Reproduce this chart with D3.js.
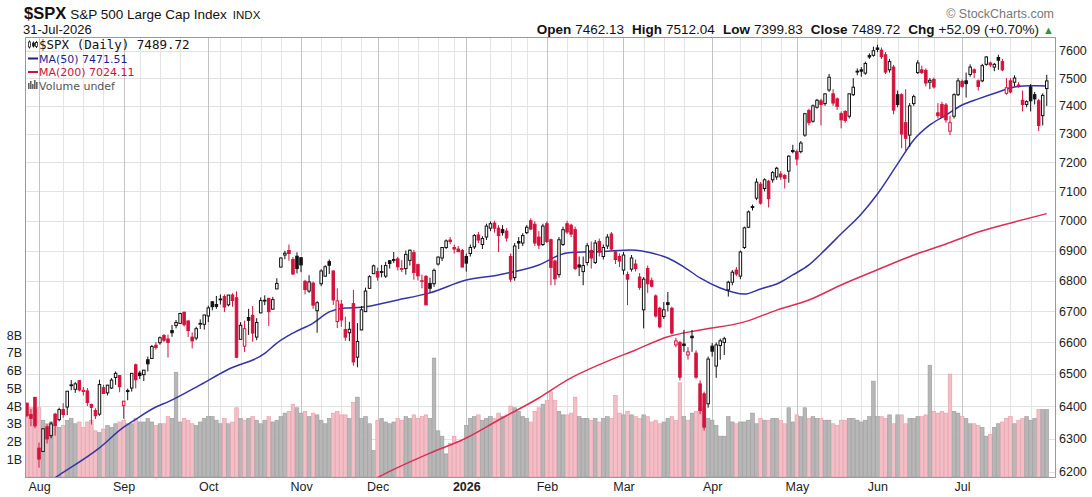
<!DOCTYPE html>
<html>
<head>
<meta charset="utf-8">
<script src="https://cdn.jsdelivr.net/npm/d3@7"></script>
<style>
  body { margin: 0; background: #fff; }
  svg { display: block; font-family: "Liberation Sans", Arial, sans-serif; }
</style>
</head>
<body>
<svg id="chart" width="1092" height="497"></svg>
<script>
// ---- data: daily OHLC + volume, 29-Jul-2025 .. 31-Jul-2026 (one value per trading day) ----
const holidays = ["2025-09-01", "2025-11-27", "2025-12-25", "2026-01-01", "2026-01-19",
                  "2026-02-16", "2026-04-03", "2026-05-25", "2026-06-19", "2026-07-03"];
const priorClose = 6389.77;

const opens = [
  6409, 6374, 6427,
  6271, 6261, 6336, 6309, 6375, 6358, 6389, 6397, 6466, 6452, 6479, 6445, 6447, 6405, 6386, 6375, 6457, 6441, 6456, 6489, 6495,
  6401, 6445, 6456, 6529, 6503, 6498, 6545, 6549, 6591, 6599, 6622, 6611, 6638, 6654, 6661, 6697, 6669, 6617, 6614, 6661, 6658,
  6685, 6731, 6722, 6740, 6748, 6721, 6753, 6744, 6610, 6588, 6680, 6687, 6617, 6695, 6736, 6742, 6707, 6773, 6845, 6885, 6900, 6870, 6881,
  6876, 6798, 6766, 6792, 6702, 6790, 6815, 6863, 6832, 6667, 6723, 6641, 6631, 6725, 6553, 6640, 6699, 6775, 6823,
  6830, 6830, 6815, 6866, 6867, 6872, 6839, 6840, 6867, 6893, 6853, 6800, 6814, 6791, 6790, 6855, 6875, 6910, 6935, 6910, 6905, 6900,
  6880, 6890, 6912, 6952, 6920, 6945, 6975, 6992, 6975, 6970, 6965, 6880, 6810, 6930, 6925, 6960, 7000, 6988, 6945, 6920,
  6990, 6936, 6865, 6820, 6920, 6990, 6985, 6970, 6852, 6830, 6860, 6900, 6860, 6930, 6880, 6915, 6955, 6895, 6880,
  6835, 6820, 6838, 6855, 6812, 6705, 6840, 6800, 6750, 6710, 6683, 6728, 6710, 6592, 6600, 6595, 6560, 6620, 6566, 6469, 6438, 6407,
  6588, 6525, 6590, 6600, 6770, 6795, 6835, 6815, 6910, 6978, 7048, 7077, 7125, 7110, 7135, 7140, 7150, 7160, 7155, 7170, 7242,
  7238, 7238, 7296, 7383, 7345, 7395, 7418, 7408, 7457, 7443, 7425, 7372, 7380, 7363, 7440, 7525, 7530, 7518, 7582, 7583,
  7610, 7602, 7585, 7530, 7540, 7440, 7440, 7340, 7296, 7408, 7520, 7530, 7528, 7485, 7495, 7375, 7405, 7403, 7310, 7363, 7440,
  7488, 7490, 7513, 7530, 7490, 7490, 7550, 7555, 7540, 7575, 7560, 7445, 7490, 7485, 7475, 7420, 7405, 7468, 7440, 7418, 7365, 7462.13
];
const highs = [
  6410, 6391, 6428,
  6288, 6330, 6344, 6352, 6379, 6395, 6409, 6446, 6481, 6474, 6481, 6459, 6456, 6407, 6393, 6482, 6466, 6466, 6487, 6508, 6495,
  6416, 6454, 6502, 6533, 6510, 6513, 6555, 6592, 6601, 6619, 6627, 6625, 6656, 6672, 6695, 6699, 6670, 6632, 6650, 6674, 6689,
  6718, 6733, 6750, 6755, 6755, 6753, 6759, 6765, 6665, 6670, 6708, 6717, 6678, 6745, 6752, 6744, 6747, 6808, 6877, 6899, 6920, 6878, 6894,
  6877, 6803, 6818, 6797, 6733, 6838, 6851, 6870, 6834, 6775, 6737, 6683, 6666, 6770, 6662, 6717, 6777, 6818, 6853,
  6843, 6852, 6862, 6867, 6895, 6879, 6868, 6900, 6903, 6902, 6856, 6820, 6819, 6810, 6840, 6880, 6910, 6937, 6945, 6920, 6915, 6905,
  6890, 6920, 6955, 6962, 6948, 6990, 6998, 7000, 6985, 6985, 6975, 6890, 6925, 6945, 6958, 6985, 7008, 6998, 6965, 6990,
  6998, 6940, 6870, 6945, 6980, 7000, 6990, 6980, 6880, 6880, 6925, 6930, 6935, 6940, 6920, 6955, 6962, 6900, 6890,
  6895, 6830, 6885, 6870, 6825, 6812, 6850, 6810, 6755, 6715, 6730, 6763, 6715, 6615, 6605, 6640, 6585, 6640, 6575, 6480, 6445, 6555,
  6598, 6600, 6612, 6618, 6800, 6835, 6845, 6900, 6980, 7035, 7055, 7145, 7132, 7145, 7140, 7170, 7185, 7170, 7160, 7225, 7262,
  7245, 7275, 7375, 7390, 7405, 7425, 7425, 7445, 7515, 7460, 7430, 7380, 7385, 7445, 7500, 7535, 7540, 7560, 7590, 7615,
  7622, 7612, 7595, 7570, 7548, 7455, 7445, 7460, 7410, 7440, 7565, 7545, 7535, 7500, 7502, 7410, 7415, 7410, 7365, 7445, 7500,
  7495, 7520, 7550, 7535, 7495, 7552, 7580, 7560, 7555, 7585, 7570, 7500, 7500, 7510, 7485, 7455, 7420, 7478, 7450, 7425, 7445, 7512.04
];
const lows = [
  6365, 6338, 6332,
  6212, 6261, 6285, 6301, 6309, 6353, 6364, 6372, 6449, 6441, 6445, 6433, 6400, 6343, 6360, 6370, 6438, 6433, 6453, 6466, 6443,
  6361, 6418, 6445, 6455, 6484, 6478, 6508, 6548, 6577, 6593, 6601, 6552, 6618, 6645, 6660, 6651, 6617, 6581, 6607, 6643, 6641,
  6665, 6703, 6708, 6722, 6698, 6716, 6715, 6550, 6610, 6569, 6624, 6602, 6607, 6694, 6720, 6653, 6706, 6773, 6844, 6871, 6866, 6819, 6824,
  6828, 6755, 6760, 6708, 6631, 6782, 6813, 6822, 6721, 6646, 6650, 6605, 6604, 6526, 6521, 6639, 6698, 6774, 6823,
  6800, 6811, 6809, 6840, 6858, 6834, 6828, 6820, 6850, 6803, 6801, 6775, 6720, 6760, 6780, 6850, 6865, 6905, 6921, 6890, 6895, 6845,
  6830, 6880, 6905, 6925, 6905, 6935, 6965, 6960, 6895, 6950, 6930, 6795, 6800, 6905, 6915, 6955, 6968, 6915, 6905, 6915,
  6925, 6785, 6785, 6810, 6915, 6955, 6945, 6835, 6815, 6785, 6850, 6840, 6855, 6880, 6870, 6905, 6900, 6855, 6845,
  6820, 6720, 6830, 6830, 6770, 6645, 6760, 6778, 6680, 6645, 6675, 6700, 6625, 6585, 6480, 6570, 6545, 6570, 6485, 6375, 6325, 6395,
  6555, 6488, 6545, 6560, 6748, 6785, 6815, 6805, 6905, 6975, 7035, 7070, 7055, 7100, 7045, 7130, 7140, 7140, 7110, 7130, 7232,
  7190, 7232, 7290, 7330, 7340, 7390, 7330, 7400, 7450, 7400, 7385, 7320, 7340, 7355, 7435, 7510, 7505, 7512, 7570, 7578,
  7595, 7570, 7515, 7520, 7370, 7395, 7250, 7235, 7254, 7400, 7515, 7515, 7470, 7460, 7462, 7355, 7358, 7340, 7296, 7355, 7435,
  7465, 7430, 7505, 7500, 7455, 7485, 7545, 7540, 7525, 7530, 7525, 7440, 7445, 7470, 7465, 7380, 7395, 7380, 7405, 7310, 7330, 7399.83
];
const closes = [
  6371, 6362, 6339,
  6238, 6330, 6299, 6345, 6340, 6389, 6374, 6446, 6466, 6469, 6450, 6449, 6411, 6396, 6370, 6467, 6439, 6465, 6481, 6502, 6460,
  6415, 6448, 6502, 6482, 6495, 6512, 6532, 6587, 6584, 6615, 6607, 6600, 6631, 6664, 6693, 6657, 6638, 6605, 6644, 6661, 6688,
  6711, 6715, 6716, 6740, 6714, 6753, 6735, 6553, 6655, 6644, 6671, 6630, 6664, 6735, 6736, 6699, 6738, 6791, 6875, 6891, 6890, 6822, 6840,
  6852, 6771, 6796, 6720, 6728, 6832, 6846, 6851, 6737, 6734, 6672, 6617, 6642, 6538, 6603, 6705, 6766, 6813, 6849,
  6812, 6829, 6850, 6857, 6870, 6846, 6840, 6887, 6901, 6827, 6816, 6800, 6721, 6775, 6834, 6878, 6910, 6932, 6930, 6905, 6896, 6845,
  6858, 6910, 6950, 6935, 6940, 6982, 6990, 6975, 6950, 6960, 6942, 6805, 6915, 6925, 6950, 6978, 6972, 6925, 6918, 6982,
  6930, 6844, 6806, 6936, 6970, 6962, 6955, 6840, 6845, 6850, 6916, 6875, 6925, 6895, 6910, 6945, 6905, 6870, 6865,
  6885, 6805, 6875, 6840, 6778, 6805, 6790, 6782, 6685, 6650, 6705, 6722, 6630, 6605, 6490, 6590, 6570, 6615, 6490, 6386, 6335, 6547,
  6572, 6592, 6605, 6612, 6795, 6828, 6822, 6895, 6976, 7030, 7045, 7132, 7060, 7140, 7075, 7165, 7180, 7150, 7145, 7222, 7238,
  7212, 7268, 7372, 7340, 7400, 7420, 7405, 7443, 7503, 7410, 7398, 7350, 7348, 7443, 7467, 7522, 7525, 7553, 7577, 7600,
  7605, 7578, 7522, 7560, 7385, 7405, 7300, 7285, 7400, 7433, 7555, 7520, 7482, 7492, 7468, 7365, 7360, 7350, 7340, 7440, 7490,
  7470, 7480, 7540, 7520, 7470, 7545, 7577, 7548, 7550, 7565, 7530, 7465, 7450, 7500, 7472, 7405, 7415, 7418, 7425, 7330, 7437.63, 7489.72
];
// volume in billions of shares
const volumes = [
  4.1, 3.9, 3.8,
  3.9, 3.2, 3.0, 3.1, 2.9, 2.8, 2.9, 3.2, 3.3, 3.0, 3.1, 2.8, 3.1, 3.2, 2.6, 2.5, 2.7, 2.9, 2.8, 3.0, 3.1,
  3.2, 3.0, 3.0, 3.3, 3.1, 3.1, 3.3, 3.1, 2.9, 3.0, 3.0, 3.4, 3.3, 5.9, 3.1, 3.3, 3.2, 3.0, 2.9, 3.1, 3.3,
  3.4, 3.4, 3.2, 3.0, 3.3, 3.0, 3.1, 3.9, 3.3, 3.2, 3.3, 3.4, 3.2, 3.0, 3.2, 3.4, 3.1, 3.2, 3.4, 3.6, 3.7, 4.1, 3.9,
  3.6, 3.7, 3.4, 3.6, 3.5, 3.2, 3.0, 3.3, 3.6, 3.7, 3.5, 3.5, 3.3, 4.2, 4.5, 3.3, 3.4, 3.0, 1.5,
  3.2, 3.3, 3.1, 3.0, 3.1, 3.3, 3.2, 3.4, 3.3, 3.5, 3.3, 3.4, 3.5, 3.3, 6.7, 2.6, 2.3, 1.3, 1.9, 2.3, 2.0, 2.0,
  2.9, 3.3, 3.4, 3.5, 3.2, 3.3, 3.4, 3.3, 3.6, 3.4, 3.5, 4.0, 3.9, 3.7, 3.4, 3.3, 3.1, 3.7, 3.9, 4.1,
  4.3, 4.8, 4.3, 3.7, 3.5, 3.5, 3.6, 4.5, 3.4, 3.3, 3.3, 3.2, 3.3, 3.1, 3.3, 3.4, 3.3, 4.6, 3.6,
  3.5, 3.7, 3.5, 3.4, 3.3, 3.5, 3.4, 3.1, 3.2, 3.0, 3.1, 3.3, 3.4, 3.2, 5.3, 3.4, 3.2, 3.6, 3.7, 3.9, 3.9, 3.3,
  3.2, 2.9, 2.3, 2.3, 3.4, 3.1, 3.0, 3.1, 3.1, 3.2, 3.6, 3.0, 3.3, 3.2, 3.2, 3.3, 3.3, 3.2, 3.0, 3.9, 3.1,
  3.5, 3.4, 3.9, 3.3, 3.4, 3.3, 3.3, 3.2, 3.2, 3.0, 2.9, 3.2, 3.2, 3.3, 3.3, 3.2, 3.1, 3.2, 3.4, 5.4,
  3.4, 3.4, 3.3, 3.5, 3.0, 3.5, 3.5, 3.0, 3.3, 3.3, 3.4, 3.4, 3.5, 6.3, 3.7, 3.6, 3.7, 3.6, 5.8, 3.7, 3.6,
  3.4, 3.3, 3.0, 3.0, 2.9, 2.8, 2.3, 2.4, 2.8, 3.0, 3.1, 3.3, 3.4, 3.0, 3.2, 3.3, 3.4, 3.2, 3.3, 3.8, 3.8, 3.8
];

// moving averages: [trading-day index from 1-Aug-2025, value]
const ma50 = [
  [0, 6150], [5, 6190], [15, 6272], [21, 6335], [23, 6351], [29, 6397], [32, 6413], [40, 6466],
  [47, 6515], [56, 6565], [59, 6598], [63, 6630], [68, 6662], [72, 6698], [76, 6711], [80, 6713],
  [89, 6737], [97, 6760], [106, 6802], [114, 6819], [124, 6852], [131, 6892], [140, 6897], [147, 6902],
  [152, 6892], [156, 6875], [160, 6845], [164, 6809], [169, 6776], [175, 6756], [179, 6773], [183, 6789],
  [187, 6819], [191, 6852], [195, 6902], [199, 6956], [204, 7023], [208, 7091], [213, 7195], [217, 7279],
  [221, 7332], [225, 7367], [229, 7403], [233, 7425], [238, 7450], [242, 7468], [246, 7472], [250, 7471.51]
];
const ma200 = [
  [82, 6170], [86, 6195], [97, 6256], [106, 6302], [114, 6357], [124, 6425], [131, 6481], [140, 6535],
  [148, 6576], [156, 6618], [164, 6640], [175, 6666], [183, 6704], [191, 6737], [199, 6786], [208, 6836],
  [217, 6885], [225, 6922], [233, 6962], [242, 6996], [250, 7024.11]
];

const priceTicks = [6200, 6300, 6400, 6500, 6600, 6700, 6800, 6900, 7000, 7100, 7200, 7300, 7400, 7500, 7600];
const volumeTicks = [1, 2, 3, 4, 5, 6, 7, 8];
const monthNames = ["Jan", "Feb", "Mar", "Apr", "May", "Jun", "Jul", "Aug", "Sep", "Oct", "Nov", "Dec"];

// ---- trading calendar ----
const tradingDays = [];
for (let t = Date.UTC(2025, 6, 29); t <= Date.UTC(2026, 6, 31); t += 86400000) {
  const d = new Date(t);
  const wd = d.getUTCDay();
  if (wd === 0 || wd === 6) continue;
  if (holidays.includes(d.toISOString().slice(0, 10))) continue;
  tradingDays.push(d);
}
if (tradingDays.length !== closes.length) console.warn("calendar mismatch", tradingDays.length, closes.length);

const idx = d3.range(closes.length);
const offset = 3; // index of 1-Aug-2025

const monthStarts = idx.filter(k => k > 0 && tradingDays[k].getUTCMonth() !== tradingDays[k - 1].getUTCMonth());
const weekStarts = idx.filter(k => k > 0 && tradingDays[k].getUTCDay() <= tradingDays[k - 1].getUTCDay())
  .filter(k => !monthStarts.some(m => Math.abs(m - k) <= 2));

// ---- layout ----
const plot = { left: 25, right: 1055, top: 37, bottom: 477 };
const RED = "#d3133d", BLK = "#111";

const svg = d3.select("#chart");
const x = d3.scaleLinear().domain([offset, offset + 250]).range([39, 1046.75]);
const y = d3.scaleLog().domain([6200, 7600]).range([471.7, 50.7]);
const yv = d3.scaleLinear().domain([0, 8]).range([plot.bottom, 335]);

const prevClose = k => (k === 0 ? priorClose : closes[k - 1]);
const isDown = k => closes[k] < prevClose(k);
const colorOf = k => (isDown(k) ? RED : BLK);

svg.append("rect").attr("width", 1092).attr("height", 497).attr("fill", "#fff");

svg.append("clipPath").attr("id", "plotClip")
  .append("rect")
  .attr("x", plot.left).attr("y", plot.top)
  .attr("width", plot.right - plot.left).attr("height", plot.bottom - plot.top);

// ---- grid ----
const grid = svg.append("g").attr("shape-rendering", "crispEdges");
grid.selectAll("line.h").data(priceTicks).join("line")
  .attr("x1", plot.left).attr("x2", plot.right)
  .attr("y1", d => Math.round(y(d)) + 0.5).attr("y2", d => Math.round(y(d)) + 0.5)
  .attr("stroke", "#e2e2e2");
grid.selectAll("line.w").data(weekStarts).join("line")
  .attr("x1", k => Math.round(x(k)) + 0.5).attr("x2", k => Math.round(x(k)) + 0.5)
  .attr("y1", plot.top).attr("y2", plot.bottom)
  .attr("stroke", "#e4e4e4");
grid.selectAll("line.m").data(monthStarts).join("line")
  .attr("x1", k => Math.round(x(k)) + 0.5).attr("x2", k => Math.round(x(k)) + 0.5)
  .attr("y1", plot.top).attr("y2", plot.bottom)
  .attr("stroke", "#c4c4c4");

const area = svg.append("g").attr("clip-path", "url(#plotClip)");

// ---- volume ----
area.append("g").selectAll("rect").data(idx).join("rect")
  .attr("x", k => x(k) - 1.8).attr("width", 3.6)
  .attr("y", k => yv(volumes[k])).attr("height", k => yv(0) - yv(volumes[k]))
  .attr("fill", k => (isDown(k) ? "#f3bec6" : "#b7b7b7"))
  .attr("stroke", k => (isDown(k) ? "#e59dab" : "#9a9a9a"))
  .attr("stroke-width", 0.6);

// ---- moving averages ----
const maLine = d3.line().x(d => x(d[0] + offset)).y(d => y(d[1])).curve(d3.curveMonotoneX);
area.append("path").datum(ma200).attr("d", maLine)
  .attr("fill", "none").attr("stroke", "#dd2d55").attr("stroke-width", 1.5);
area.append("path").datum(ma50).attr("d", maLine)
  .attr("fill", "none").attr("stroke", "#3434a6").attr("stroke-width", 1.5);

// ---- candles ----
const candles = area.append("g");
candles.selectAll("line").data(idx).join("line")
  .attr("x1", k => x(k)).attr("x2", k => x(k))
  .attr("y1", k => y(highs[k])).attr("y2", k => y(lows[k]))
  .attr("stroke", colorOf).attr("stroke-width", 1);
candles.selectAll("rect").data(idx).join("rect")
  .attr("x", k => x(k) - 1.25).attr("width", 2.5)
  .attr("y", k => y(Math.max(opens[k], closes[k])))
  .attr("height", k => Math.max(0.8, y(Math.min(opens[k], closes[k])) - y(Math.max(opens[k], closes[k]))))
  .attr("fill", k => (closes[k] >= opens[k] ? "#fff" : colorOf(k)))
  .attr("stroke", colorOf).attr("stroke-width", 1);

// ---- frame ----
svg.append("rect")
  .attr("x", plot.left + 0.5).attr("y", plot.top + 0.5)
  .attr("width", plot.right - plot.left).attr("height", plot.bottom - plot.top)
  .attr("fill", "none").attr("stroke", "#9a9a9a").attr("shape-rendering", "crispEdges");

// ---- axes ----
const yAxis = svg.append("g").attr("transform", `translate(${plot.right},0)`)
  .call(d3.axisRight(y).tickValues(priceTicks).tickFormat(d3.format("d")).tickSize(0).tickPadding(4));
yAxis.select(".domain").remove();
yAxis.selectAll("text").attr("font-size", 12.5).attr("font-family", "Liberation Sans, Arial, sans-serif").attr("fill", "#222");

const vAxis = svg.append("g").attr("transform", `translate(${plot.left - 2},0)`)
  .call(d3.axisLeft(yv).tickValues(volumeTicks).tickFormat(d => d + "B").tickSize(0).tickPadding(1));
vAxis.select(".domain").remove();
vAxis.selectAll("text").attr("font-size", 12.5).attr("font-family", "Liberation Sans, Arial, sans-serif").attr("fill", "#222");

const monthLabel = k => {
  const d = tradingDays[k];
  return d.getUTCMonth() === 0 ? String(d.getUTCFullYear()) : monthNames[d.getUTCMonth()];
};
const xAxis = svg.append("g").attr("transform", `translate(0,${plot.bottom})`)
  .call(d3.axisBottom(x).tickValues([offset, ...monthStarts.filter(k => k > offset)]).tickFormat(monthLabel).tickSize(0).tickPadding(5));
xAxis.select(".domain").remove();
xAxis.selectAll("text").attr("font-size", 12.5).attr("font-family", "Liberation Sans, Arial, sans-serif").attr("fill", "#222")
  .attr("font-weight", k => (tradingDays[k].getUTCMonth() === 0 ? "bold" : "normal"));

// ---- header ----
const last = closes.length - 1;
const chg = closes[last] - closes[last - 1];
const fmt = d3.format(".2f");

const head = svg.append("text").attr("x", 24).attr("y", 18.5).attr("fill", "#111");
head.append("tspan").attr("font-size", 16.5).attr("font-weight", "bold").text("$SPX");
head.append("tspan").attr("font-size", 13.5).attr("dx", 4).text("S&P 500 Large Cap Index");
head.append("tspan").attr("font-size", 11.5).attr("dx", 6).text("INDX");

svg.append("text").attr("x", 23).attr("y", 34).attr("font-size", 13).attr("fill", "#111").text("31-Jul-2026");

svg.append("text").attr("x", 1054).attr("y", 18).attr("text-anchor", "end")
  .attr("font-size", 12.5).attr("fill", "#777").text("\u00A9 StockCharts.com");

const info = svg.append("text").attr("x", 1054).attr("y", 34).attr("text-anchor", "end")
  .attr("font-size", 13.5).attr("fill", "#111");
const infoParts = [
  ["Open", fmt(opens[last])], ["High", fmt(highs[last])], ["Low", fmt(lows[last])],
  ["Close", fmt(closes[last])], ["Chg", `+${fmt(chg)} (+${fmt(chg / closes[last - 1] * 100)}%)`]
];
infoParts.forEach(([label, val], n) => {
  info.append("tspan").attr("font-weight", "bold").attr("dx", n === 0 ? 0 : 8).text(label);
  info.append("tspan").attr("dx", 4).text(val);
});
info.append("tspan").attr("dx", 4).attr("fill", "#2e9a2e").attr("font-size", 11).text("\u25B2");

// ---- legend ----
const leg = svg.append("g");
// candle icon
[[29.5, 42, 47, 40.5, 48.5, true], [33.5, 43, 46, 41.5, 47.5, false], [36.5, 42.5, 46.5, 41, 48, true]]
  .forEach(([cx, t, b, hi, lo, hollow]) => {
    leg.append("line").attr("x1", cx).attr("x2", cx).attr("y1", hi).attr("y2", lo).attr("stroke", "#222");
    leg.append("rect").attr("x", cx - 1).attr("y", t).attr("width", 2).attr("height", b - t)
      .attr("fill", hollow ? "#fff" : "#222").attr("stroke", "#222").attr("stroke-width", 0.8);
  });
leg.append("text").attr("x", 39).attr("y", 48.5).attr("font-family", "DejaVu Sans Mono, monospace")
  .attr("font-size", 12.5).attr("fill", "#111").text(`$SPX (Daily) ${fmt(closes[last])}`);

leg.append("line").attr("x1", 28).attr("x2", 38).attr("y1", 58.5).attr("y2", 58.5).attr("stroke", "#1f1f8f").attr("stroke-width", 2);
leg.append("text").attr("x", 39).attr("y", 62.5).attr("font-family", "DejaVu Sans, Verdana, sans-serif")
  .attr("font-size", 11).attr("fill", "#1f1f8f").text(`MA(50) ${fmt(ma50[ma50.length - 1][1])}`);

leg.append("line").attr("x1", 28).attr("x2", 38).attr("y1", 72).attr("y2", 72).attr("stroke", "#cc1440").attr("stroke-width", 2);
leg.append("text").attr("x", 39).attr("y", 76).attr("font-family", "DejaVu Sans, Verdana, sans-serif")
  .attr("font-size", 11).attr("fill", "#cc1440").text(`MA(200) ${fmt(ma200[ma200.length - 1][1])}`);

[[28, 83], [30, 81], [32, 84], [34, 80], [36, 82]].forEach(([bx, top]) => {
  leg.append("rect").attr("x", bx).attr("y", top).attr("width", 1.6).attr("height", 89 - top).attr("fill", "#666");
});
leg.append("text").attr("x", 39).attr("y", 89.5).attr("font-family", "DejaVu Sans, Verdana, sans-serif")
  .attr("font-size", 11).attr("fill", "#555").text("Volume undef");
</script>
</body>
</html>
